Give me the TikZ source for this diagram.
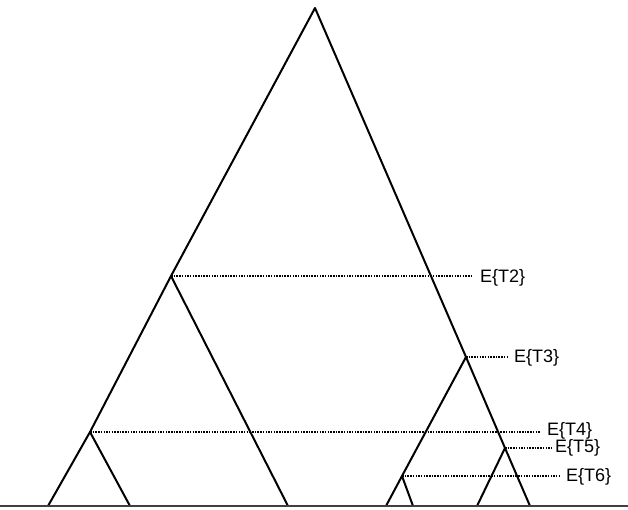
\documentclass[tikz,border=0pt]{standalone}
\usepackage{fontspec}
\setmainfont{Liberation Sans}
\begin{document}
\begin{tikzpicture}[x=1pt,y=-1pt,
  branch/.style={line width=2pt,line join=round,line cap=round},
  level/.style={line width=1.6pt,dash pattern=on 1.5pt off 1.2pt},
  elab/.style={anchor=west,inner sep=0pt,font=\fontsize{18}{21}\selectfont},
  ground/.style={line width=2.4pt,color=black!75}]
\useasboundingbox (0,0) rectangle (628,509);
% coordinates
\coordinate (apex) at (315,8);
\coordinate (lb) at (48,506);
\coordinate (rb) at (530,506);
\coordinate (T2) at (171,276);
\coordinate (T4) at (90,432);
\coordinate (T3) at (466,357);
\coordinate (T5) at (505,448);
\coordinate (T6) at (402,476);
\coordinate (T2b) at (288,506);
\coordinate (T4b) at (130,506);
\coordinate (T3b) at (386,506);
\coordinate (T6b) at (413,506);
\coordinate (T5b) at (477,506);
\coordinate (g0) at (0,506);
\coordinate (g1) at (628,506);
% labels
\node[elab] (L2) at (480,278) {E\{T2\}};
\node[elab] (L3) at (514,358) {E\{T3\}};
\node[elab] (L4) at (547,431) {E\{T4\}};
\node[elab] (L5) at (555,448) {E\{T5\}};
\node[elab] (L6) at (566,477) {E\{T6\}};
% dotted levels
\draw[level,shorten >=7pt] (T2) -- (T2 -| L2.west);
\draw[level,shorten >=7pt] (T3) -- (T3 -| L3.west);
\draw[level,shorten >=7pt] (T4) -- (T4 -| L4.west);
\draw[level,shorten >=4pt] (T5) -- (T5 -| L5.west);
\draw[level,shorten >=5pt] (T6) -- (T6 -| L6.west);
% tree
\draw[branch] (lb) -- (T4) -- (T2) -- (apex) -- (T3) -- (T5) -- (rb);
\draw[branch] (T2) -- (T2b);
\draw[branch] (T4) -- (T4b);
\draw[branch] (T3) -- (T6) -- (T3b);
\draw[branch] (T6) -- (T6b);
\draw[branch] (T5) -- (T5b);
\draw[ground] (g0) -- (g1);
\end{tikzpicture}
\end{document}
